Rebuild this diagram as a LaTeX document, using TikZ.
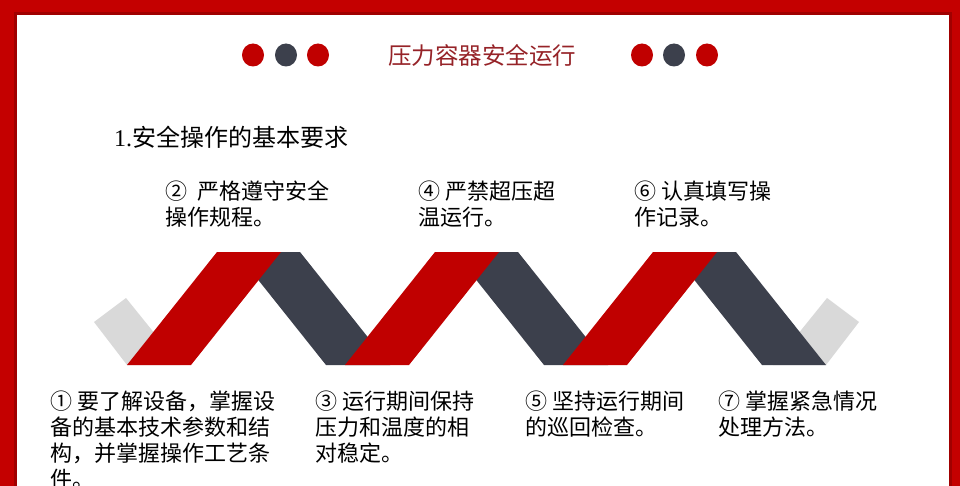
\documentclass[tikz,border=0pt]{standalone}
\usepackage{fontspec}
\newfontfamily\cjk{Noto Sans CJK SC}
\newfontfamily\tnr{Liberation Serif}
\definecolor{bordred}{RGB}{196,0,0}
\definecolor{darkedge}{RGB}{160,0,0}
\definecolor{ribred}{RGB}{192,0,0}
\definecolor{ribdark}{RGB}{60,64,76}
\definecolor{ribgray}{RGB}{217,217,217}
\definecolor{titlered}{RGB}{150,35,40}
\tikzset{
  bodytext/.style={anchor=north west, inner sep=0pt, align=left, text=black,
    font=\cjk\fontsize{22}{26}\selectfont},
  dot/.style={ellipse, minimum width=22pt, minimum height=23pt, inner sep=0pt},
}
\usetikzlibrary{shapes.geometric}
\begin{document}
\begin{tikzpicture}[x=1pt,y=-1pt]
\useasboundingbox (0,0) rectangle (960,486);
% frame
\fill[bordred] (0,0) rectangle (960,486);
\fill[darkedge] (14,12) rectangle (952,486);
\fill[white] (17,15) rectangle (949,486);
% title dots
\node[dot, fill=ribred] (d1) at (253,55) {};
\node[dot, fill=ribdark] (d2) at (286,55) {};
\node[dot, fill=ribred] (d3) at (318,55) {};
\node[dot, fill=ribred] (d4) at (642,55) {};
\node[dot, fill=ribdark] (d5) at (674,55) {};
\node[dot, fill=ribred] (d6) at (707,55) {};
\node[inner sep=0pt, text=titlered, font=\cjk\fontsize{23.5}{26}\selectfont] (title) at (482,55) {压力容器安全运行};
% heading
\node[anchor=west, inner sep=0pt, font=\cjk\fontsize{24}{28}\selectfont] (head) at (114,137) {{\tnr 1.}安全操作的基本要求};
% ribbon
\fill[ribgray] (94,322) -- (126,298) -- (180,365) -- (127,365) -- cycle;
\fill[ribgray] (859,322) -- (827,298) -- (773,365) -- (826,365) -- cycle;
\foreach \a in {217,435,653}{
  \fill[ribdark] (\a+19,252) -- (\a+83,252) -- (\a+173,365) -- (\a+109,365) -- cycle;
}
\foreach \a in {217,435,653}{
  \fill[ribred] (\a,252) -- (\a+64,252) -- (\a-26,365) -- (\a-90,365) -- cycle;
}
% top labels
\node[bodytext] (t2) at (165,181) {②\hspace{0.45em}严格遵守安全\\操作规程。};
\node[bodytext] (t4) at (418,181) {④ 严禁超压超\\温运行。};
\node[bodytext] (t6) at (634,181) {⑥ 认真填写操\\作记录。};
% bottom labels
\node[bodytext] (b1) at (50,391) {① 要了解设备，掌握设\\备的基本技术参数和结\\构，并掌握操作工艺条\\件。};
\node[bodytext] (b3) at (315,391) {③ 运行期间保持\\压力和温度的相\\对稳定。};
\node[bodytext] (b5) at (525,391) {⑤ 坚持运行期间\\的巡回检查。};
\node[bodytext] (b7) at (718,391) {⑦ 掌握紧急情况\\处理方法。};
\end{tikzpicture}
\end{document}
